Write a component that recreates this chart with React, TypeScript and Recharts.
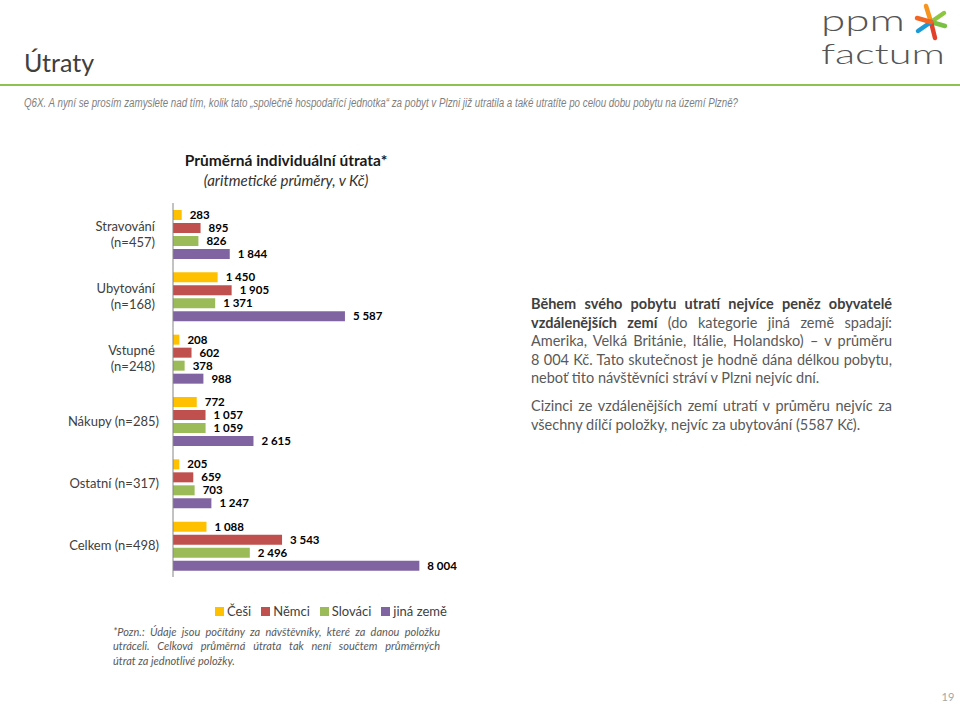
import React from "react";
import { BarChart, Bar, XAxis, YAxis, LabelList, Legend } from "recharts";

const categories = [
  "Stravování\n(n=457)",
  "Ubytování\n(n=168)",
  "Vstupné\n(n=248)",
  "Nákupy (n=285)",
  "Ostatní (n=317)",
  "Celkem (n=498)",
];
const cesi = [283, 1450, 208, 772, 205, 1088];
const nemci = [895, 1905, 602, 1057, 659, 3543];
const slovaci = [826, 1371, 378, 1059, 703, 2496];
const jinaZeme = [1844, 5587, 988, 2615, 1247, 8004];

const seriesNames = ["Češi", "Němci", "Slováci", "jiná země"];
const seriesKeys = ["cesi", "nemci", "slovaci", "jina"];
const seriesColors = ["#FFC000", "#C0504D", "#9BBB59", "#8064A2"];

const data = categories.map((c, i) => ({
  name: c,
  cesi: cesi[i],
  nemci: nemci[i],
  slovaci: slovaci[i],
  jina: jinaZeme[i],
}));

const FONT = "Lato, 'Open Sans', sans-serif";

const fmt = (v: any) => String(v).replace(/\B(?=(\d{3})+(?!\d))/g, " ");

const CategoryTick = (props: any) => {
  const { x, y, payload } = props;
  const lines = String(payload.value).split("\n");
  const lh = 16;
  const start = -((lines.length - 1) * lh) / 2;
  return (
    <text x={x - 6} y={y} textAnchor="end" fontFamily={FONT} fontSize={13} fill="#404040">
      {lines.map((l, i) => (
        <tspan key={i} x={x - (lines.length > 1 ? 10 : 6)} dy={i === 0 ? start + 4.5 : lh}>
          {l}
        </tspan>
      ))}
    </text>
  );
};

const LegendContent = () => (
  <div style={{ display: "flex", fontFamily: FONT, fontSize: 13, color: "#404040", lineHeight: "16px" }}>
    {seriesNames.map((n, i) => (
      <div key={n} style={{ display: "flex", alignItems: "center", marginRight: i < 3 ? 10 : 0 }}>
        <span style={{ width: 9, height: 9, background: seriesColors[i], display: "inline-block", marginRight: 3 }} />
        <span>{n}</span>
      </div>
    ))}
  </div>
);

const para1: { t: string; b?: boolean }[][] = [
  [{ t: "Během svého pobytu utratí nejvíce peněz obyvatelé", b: true }],
  [{ t: "vzdálenějších zemí", b: true }, { t: " (do kategorie jiná země spadají:" }],
  [{ t: "Amerika, Velká Británie, Itálie, Holandsko) – v průměru" }],
  [{ t: "8 004 Kč. Tato skutečnost je hodně dána délkou pobytu," }],
  [{ t: "neboť tito návštěvníci stráví v Plzni nejvíc dní." }],
];
const para2 = [
  "Cizinci ze vzdálenějších zemí utratí v průměru nejvíc za",
  "všechny dílčí položky, nejvíc za ubytování (5587 Kč).",
];
const footnote = [
  "*Pozn.: Údaje jsou počítány za návštěvníky, které za danou položku",
  "utráceli. Celková průměrná útrata tak není součtem průměrných",
  "útrat za jednotlivé položky.",
];

const lineStyle = (last: boolean): React.CSSProperties => ({
  textAlign: last ? "left" : "justify",
  textAlignLast: last ? "left" : "justify",
  whiteSpace: "nowrap",
});

export default function App() {
  return (
    <div
      style={{
        position: "absolute",
        left: 0,
        top: 0,
        width: 960,
        height: 704,
        overflow: "hidden",
        background: "#fff",
        fontFamily: FONT,
      }}
    >
      {/* slide header */}
      <div style={{ position: "absolute", left: 24, top: 46, fontSize: 25, lineHeight: "32px", color: "#404040" }}>
        Útraty
      </div>
      <div style={{ position: "absolute", left: 0, top: 84, width: 960, height: 2, background: "#8DC351" }} />
      <svg style={{ position: "absolute", left: 0, top: 0 }} width={960} height={704}>
        <text
          x={24}
          y={107}
          fontFamily="'Liberation Sans Narrow', 'Arial Narrow', 'Liberation Sans', sans-serif"
          fontStyle="italic"
          fontSize={12}
          fill="#7F7F7F"
          textLength={714}
          lengthAdjust="spacingAndGlyphs"
        >
          Q6X. A nyní se prosím zamyslete nad tím, kolik tato „společně hospodařící jednotka“ za pobyt v Plzni již
          utratila a také utratíte po celou dobu pobytu na území Plzně?
        </text>
        {/* logo */}
        <text x={821} y={31} fontFamily="Lato, sans-serif" fontWeight={300} fontSize={29} fill="#555" textLength={84} lengthAdjust="spacingAndGlyphs">
          ppm
        </text>
        <text x={821} y={64} fontFamily="Lato, sans-serif" fontWeight={300} fontSize={27} fill="#555" textLength={124} lengthAdjust="spacingAndGlyphs">
          factum
        </text>
        <g transform="translate(931,22)" strokeWidth={4.5} strokeLinecap="round">
          <line x1={0} y1={0} x2={-5} y2={-16} stroke="#F7941D" />
          <line x1={0} y1={0} x2={13} y2={-9} stroke="#8DC63F" />
          <line x1={0} y1={0} x2={14} y2={4} stroke="#7AC143" />
          <line x1={0} y1={0} x2={4} y2={16} stroke="#E2402B" />
          <line x1={0} y1={0} x2={-13} y2={9} stroke="#1B9AD6" />
          <line x1={0} y1={0} x2={-14} y2={-4} stroke="#F26522" />
        </g>
        <text x={948} y={701} textAnchor="middle" fontFamily={FONT} fontSize={11} fill="#A6A6A6">
          19
        </text>
      </svg>

      {/* chart title */}
      <div style={{ position: "absolute", left: 136, top: 150, width: 300, textAlign: "center", color: "#1a1a1a" }}>
        <div style={{ fontSize: 15.5, fontWeight: 700, lineHeight: "20px" }}>Průměrná individuální útrata*</div>
        <div style={{ fontSize: 15, fontStyle: "italic", lineHeight: "20px", color: "#333" }}>
          (aritmetické průměry, v Kč)
        </div>
      </div>

      <div style={{ position: "absolute", left: 0, top: 0 }}>
        <BarChart
          width={960}
          height={704}
          data={data}
          layout="vertical"
          margin={{ top: 203, bottom: 111, left: 113, right: 510 }}
          barSize={10}
          barGap={3}
        >
          <XAxis type="number" domain={[0, 9000]} hide />
          <YAxis
            type="category"
            dataKey="name"
            width={60}
            axisLine={{ stroke: "#868686" }}
            tickLine={false}
            tick={<CategoryTick />}
            interval={0}
          />
          {seriesKeys.map((k, i) => (
            <Bar key={k} dataKey={k} name={seriesNames[i]} fill={seriesColors[i]} isAnimationActive={false}>
              <LabelList
                dataKey={k}
                position="right"
                offset={8}
                formatter={fmt}
                fontFamily={FONT}
                fontWeight={700}
                fontSize={11.5}
                fill="#000"
              />
            </Bar>
          ))}
          <Legend
            content={<LegendContent />}
            wrapperStyle={{ position: "absolute", left: 215, top: 603, width: "auto" }}
          />
        </BarChart>
      </div>

      {/* right commentary */}
      <div style={{ position: "absolute", left: 531, top: 295, width: 361, fontSize: 14.5, lineHeight: "18.5px", color: "#595959" }}>
        {para1.map((line, i) => (
          <div key={i} style={lineStyle(i === para1.length - 1)}>
            {line.map((s, j) => (
              <span key={j} style={s.b ? { fontWeight: 700, color: "#404040" } : undefined}>
                {s.t}
              </span>
            ))}
          </div>
        ))}
        <div style={{ height: 9.5 }} />
        {para2.map((l, i) => (
          <div key={i} style={lineStyle(i === para2.length - 1)}>
            {l}
          </div>
        ))}
      </div>

      {/* footnote */}
      <div
        style={{
          position: "absolute",
          left: 113,
          top: 625,
          width: 327,
          fontSize: 11,
          lineHeight: "14.3px",
          fontStyle: "italic",
          color: "#595959",
        }}
      >
        {footnote.map((l, i) => (
          <div key={i} style={lineStyle(i === footnote.length - 1)}>
            {l}
          </div>
        ))}
      </div>
    </div>
  );
}
